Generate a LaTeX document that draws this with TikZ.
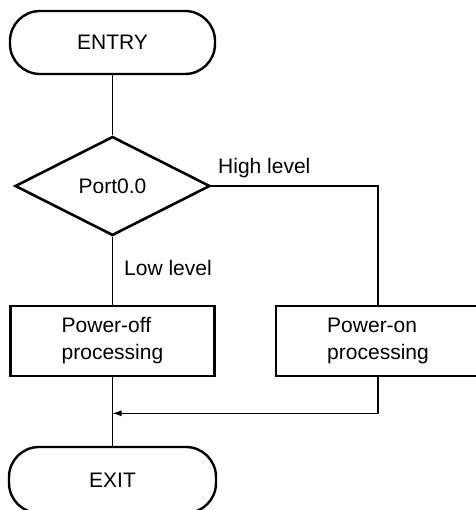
\documentclass[tikz,border=0pt]{standalone}
\usepackage{fontspec}
\setmainfont{Liberation Sans}
\usetikzlibrary{shapes.geometric,arrows.meta}
\begin{document}
\begin{tikzpicture}[x=1pt,y=-1pt,
  every node/.style={font=\fontsize{21}{27}\selectfont},
  terminal/.style={draw, line width=2.4pt, rounded corners=30pt, inner sep=0pt},
  decision/.style={draw, diamond, line width=2.6pt, inner sep=0pt,
                   minimum width=195pt, minimum height=99pt},
  process/.style={draw, line width=2.6pt, align=left, inner sep=0pt,
                  minimum width=204pt, minimum height=70pt},
  conn/.style={line width=1.2pt},
  lbl/.style={anchor=base west, inner sep=0pt}]

% page
\fill[white] (0,0) rectangle (475,510);
\useasboundingbox (0,0) rectangle (475,510);

% blocks
\node[terminal, minimum width=205pt, minimum height=63pt] (entry) at (112.5,42.5) {ENTRY};
\node[decision] (port) at (112.5,186) {Port0.0};
\node[process] (off) at (112.5,341) {Power-off\\processing};
\node[process] (on) at (378,341) {Power-on\\processing};
\node[terminal, minimum width=207pt, minimum height=66pt] (exit) at (112.5,480) {EXIT};

% branch labels
\node[lbl] (high) at (218,174) {High level};
\node[lbl] (low) at (124,275) {Low level};

% connectors
\draw[conn] (entry.south) -- (port.north);
\draw[conn] (port.east) -| (on.north);
\draw[conn] (port.south) -- (off.north);
\draw[conn] (off.south) -- (exit.north);
\path (off.south) ++(0,36) coordinate (join);
\draw[conn, -{Latex[length=9pt,width=6pt]}] (on.south) |- (join);
\end{tikzpicture}
\end{document}
